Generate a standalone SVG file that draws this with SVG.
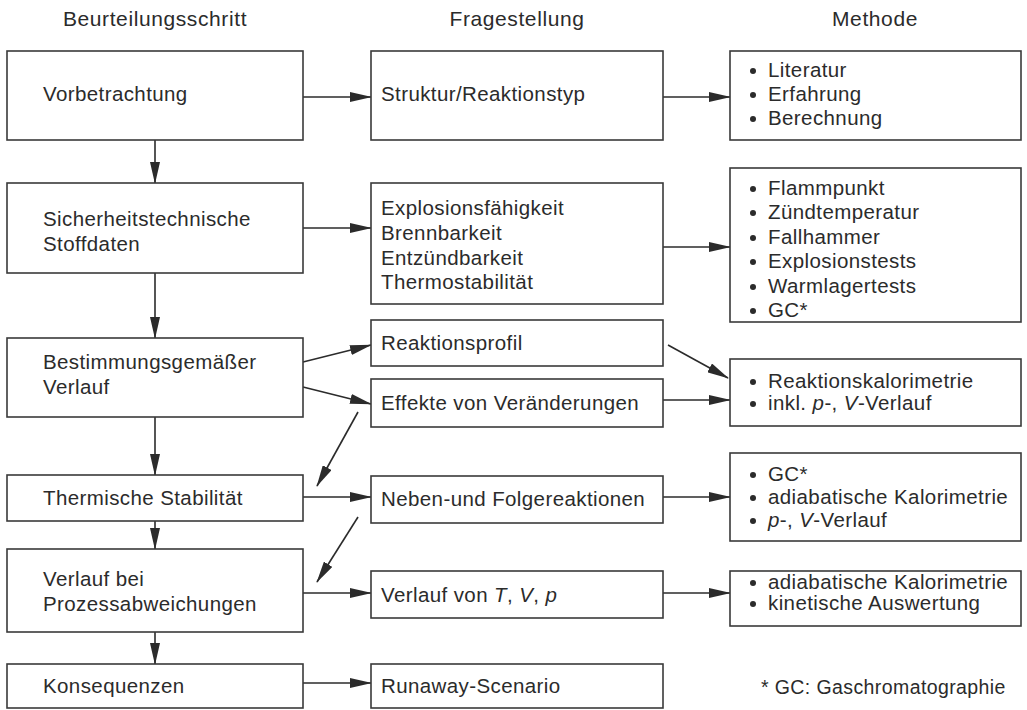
<svg xmlns="http://www.w3.org/2000/svg" width="1027" height="710" viewBox="0 0 1027 710">
<style>
text{font-family:"Liberation Sans",Arial,sans-serif;font-size:20.5px;fill:#2b2b2b;letter-spacing:0.4px}
.h{font-size:21px;letter-spacing:0.6px}
.fn{font-size:19.5px}
.box{fill:#fff;stroke:#3a3a3a;stroke-width:1.6}
.c{stroke:#2b2b2b;stroke-width:1.6;fill:none;marker-end:url(#ah)}
.b{fill:#2b2b2b}
.it{font-style:italic}
</style>
<defs>
<marker id="ah" markerUnits="userSpaceOnUse" markerWidth="22" markerHeight="10" refX="21" refY="5" orient="auto">
<path d="M0,0 L22,5 L0,10 z" fill="#2b2b2b"/>
</marker>
</defs>
<rect width="1027" height="710" fill="#fff"/>
<g id="headers">
<text class="h" x="155" y="26" text-anchor="middle">Beurteilungsschritt</text>
<text class="h" x="517" y="26" text-anchor="middle">Fragestellung</text>
<text class="h" x="875" y="26" text-anchor="middle">Methode</text>
</g>
<g id="connectors">
<line class="c" x1="155" y1="140" x2="155" y2="183"/>
<line class="c" x1="155" y1="273" x2="155" y2="338"/>
<line class="c" x1="155" y1="417" x2="155" y2="475"/>
<line class="c" x1="155" y1="521" x2="155" y2="549"/>
<line class="c" x1="155" y1="632" x2="155" y2="664"/>
<line class="c" x1="303" y1="97" x2="371" y2="97"/>
<line class="c" x1="663" y1="97" x2="730" y2="97"/>
<line class="c" x1="303" y1="228" x2="371" y2="228"/>
<line class="c" x1="663" y1="247" x2="730" y2="247"/>
<line class="c" x1="303" y1="362" x2="371" y2="345"/>
<line class="c" x1="303" y1="387" x2="371" y2="404"/>
<line class="c" x1="668" y1="345" x2="728" y2="378"/>
<line class="c" x1="663" y1="400" x2="730" y2="400"/>
<line class="c" x1="358" y1="412" x2="317" y2="486"/>
<line class="c" x1="303" y1="497" x2="371" y2="497"/>
<line class="c" x1="663" y1="497" x2="730" y2="497"/>
<line class="c" x1="358" y1="517" x2="317" y2="582"/>
<line class="c" x1="303" y1="593" x2="371" y2="593"/>
<line class="c" x1="663" y1="593" x2="730" y2="593"/>
<line class="c" x1="303" y1="683" x2="371" y2="683"/>
</g>
<g id="n-vorbetrachtung">
<rect class="box" x="7" y="51" width="296" height="89"/>
<text x="43" y="101">Vorbetrachtung</text>
</g>
<g id="n-struktur">
<rect class="box" x="371" y="51" width="292" height="89"/>
<text x="381" y="101">Struktur/Reaktionstyp</text>
</g>
<g id="n-m1">
<rect class="box" x="730" y="51" width="291" height="89"/>
<circle class="b" cx="753" cy="71" r="3"/><text x="768" y="77">Literatur</text>
<circle class="b" cx="753" cy="95" r="3"/><text x="768" y="101">Erfahrung</text>
<circle class="b" cx="753" cy="119" r="3"/><text x="768" y="125">Berechnung</text>
</g>
<g id="n-stoffdaten">
<rect class="box" x="7" y="183" width="296" height="90"/>
<text x="43" y="226">Sicherheitstechnische</text>
<text x="43" y="251">Stoffdaten</text>
</g>
<g id="n-explosion">
<rect class="box" x="371" y="183" width="292" height="121"/>
<text x="381" y="215">Explosionsfähigkeit</text>
<text x="381" y="240">Brennbarkeit</text>
<text x="381" y="265">Entzündbarkeit</text>
<text x="381" y="289">Thermostabilität</text>
</g>
<g id="n-m2">
<rect class="box" x="730" y="168" width="291" height="154"/>
<circle class="b" cx="753" cy="189" r="3"/><text x="768" y="195">Flammpunkt</text>
<circle class="b" cx="753" cy="213" r="3"/><text x="768" y="219">Zündtemperatur</text>
<circle class="b" cx="753" cy="238" r="3"/><text x="768" y="244">Fallhammer</text>
<circle class="b" cx="753" cy="262" r="3"/><text x="768" y="268">Explosionstests</text>
<circle class="b" cx="753" cy="287" r="3"/><text x="768" y="293">Warmlagertests</text>
<circle class="b" cx="753" cy="311" r="3"/><text x="768" y="317">GC*</text>
</g>
<g id="n-bestimmung">
<rect class="box" x="7" y="338" width="296" height="79"/>
<text x="43" y="369">Bestimmungsgemäßer</text>
<text x="43" y="394">Verlauf</text>
</g>
<g id="n-profil">
<rect class="box" x="371" y="320" width="292" height="46"/>
<text x="381" y="350">Reaktionsprofil</text>
</g>
<g id="n-effekte">
<rect class="box" x="371" y="379" width="292" height="48"/>
<text x="381" y="410">Effekte von Veränderungen</text>
</g>
<g id="n-m3">
<rect class="box" x="730" y="359" width="291" height="67"/>
<circle class="b" cx="753" cy="382" r="3"/><text x="768" y="388">Reaktionskalorimetrie</text>
<circle class="b" cx="753" cy="404" r="3"/><text x="768" y="410">inkl. <tspan class="it">p</tspan>-, <tspan class="it">V</tspan>-Verlauf</text>
</g>
<g id="n-thermisch">
<rect class="box" x="7" y="475" width="296" height="46"/>
<text x="43" y="505">Thermische Stabilität</text>
</g>
<g id="n-neben">
<rect class="box" x="371" y="476" width="292" height="47"/>
<text x="381" y="506">Neben-und Folgereaktionen</text>
</g>
<g id="n-m4">
<rect class="box" x="730" y="453" width="291" height="88"/>
<circle class="b" cx="753" cy="475" r="3"/><text x="768" y="481">GC*</text>
<circle class="b" cx="753" cy="498" r="3"/><text x="768" y="504">adiabatische Kalorimetrie</text>
<circle class="b" cx="753" cy="521" r="3"/><text x="768" y="527"><tspan class="it">p</tspan>-, <tspan class="it">V</tspan>-Verlauf</text>
</g>
<g id="n-abweichung">
<rect class="box" x="7" y="549" width="296" height="83"/>
<text x="43" y="586">Verlauf bei</text>
<text x="43" y="611">Prozessabweichungen</text>
</g>
<g id="n-verlauf">
<rect class="box" x="371" y="571" width="292" height="47"/>
<text x="381" y="602">Verlauf von <tspan class="it">T</tspan>, <tspan class="it">V</tspan>, <tspan class="it">p</tspan></text>
</g>
<g id="n-m5">
<rect class="box" x="730" y="571" width="291" height="55"/>
<circle class="b" cx="753" cy="583" r="3"/><text x="768" y="589">adiabatische Kalorimetrie</text>
<circle class="b" cx="753" cy="604" r="3"/><text x="768" y="610">kinetische Auswertung</text>
</g>
<g id="n-konsequenzen">
<rect class="box" x="7" y="664" width="296" height="44"/>
<text x="43" y="693">Konsequenzen</text>
</g>
<g id="n-runaway">
<rect class="box" x="371" y="664" width="292" height="44"/>
<text x="381" y="693">Runaway-Scenario</text>
</g>
<g id="footnote">
<text class="fn" x="761" y="694">* GC: Gaschromatographie</text>
</g>
</svg>
